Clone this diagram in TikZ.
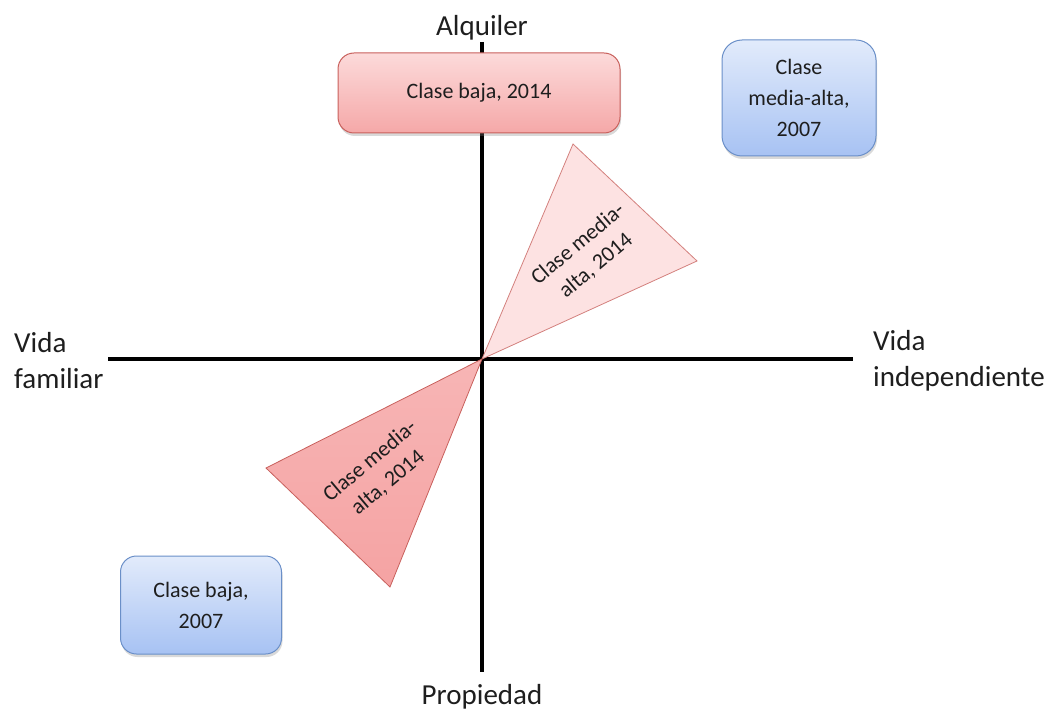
\documentclass[tikz,border=0pt]{standalone}
\usepackage{fontspec}
\setmainfont{Carlito}
\usetikzlibrary{shadows}
\definecolor{pinktop}{HTML}{FCDADA}
\definecolor{pinkbot}{HTML}{F5A8A8}
\definecolor{pinkedge}{HTML}{C8605C}
\definecolor{bluetop}{HTML}{E2EBFB}
\definecolor{bluebot}{HTML}{A7C2F3}
\definecolor{blueedge}{HTML}{6A8FC8}
\definecolor{trilight}{HTML}{FDE2E2}
\definecolor{tridark}{HTML}{F5A3A3}
\definecolor{txt}{HTML}{1E1E1E}
\tikzset{
  axis/.style={line width=4pt, black},
  axislabel/.style={font=\fontsize{29}{36}\selectfont, text=txt, inner sep=0pt},
  boxtext/.style={font=\fontsize{22}{31}\selectfont, text=txt, align=center},
  pinkbox/.style={boxtext, draw=pinkedge, line width=1pt, rounded corners=16pt,
    top color=pinktop, bottom color=pinkbot,
    drop shadow={opacity=0.3, shadow xshift=1pt, shadow yshift=-3pt}},
  bluebox/.style={boxtext, draw=blueedge, line width=1pt, rounded corners=20pt,
    top color=bluetop, bottom color=bluebot,
    drop shadow={opacity=0.3, shadow xshift=1pt, shadow yshift=-3pt}},
  tritext/.style={font=\fontsize{22}{28}\selectfont, text=txt, align=center, rotate=40}
}
\begin{document}
\begin{tikzpicture}[x=1pt, y=-1pt]
\useasboundingbox (0,0) rectangle (1049,711);

% axis ends
\coordinate (O) at (482,359);
\coordinate (vt) at (482,42);
\coordinate (vb) at (482,672);
\coordinate (hl) at (108,359);
\coordinate (hr) at (853,359);

% triangles of the upper-middle class, 2014
\coordinate (ua) at (573,144);
\coordinate (ub) at (697,261);
\coordinate (la) at (266,468);
\coordinate (lb) at (390,587);

\draw[axis] (hl) -- (hr);
\draw[axis] (vt) -- (vb);

\path[draw=pinkedge!80, line width=0.8pt, fill=trilight] (O) -- (ua) -- (ub) -- cycle;
\path[draw=pinkedge, line width=0.8pt, top color=tridark!80, bottom color=tridark] (O) -- (la) -- (lb) -- cycle;

\node[tritext] (t1) at (587,255) {Clase media-\\alta, 2014};
\node[tritext] (t2) at (379,472) {Clase media-\\alta, 2014};

% axis labels
\node[axislabel] (alq) at (482,28) {Alquiler};
\node[axislabel] (prop) at (482,697) {Propiedad};
\node[axislabel, align=left, anchor=west] (fam) at (14,361) {Vida\\familiar};
\node[axislabel, align=left, anchor=west] (ind) at (873,361) {Vida\\independiente};

% class boxes
\node[pinkbox, minimum width=282pt, minimum height=80pt] (b14) at (479,93) {Clase baja, 2014};
\node[bluebox, minimum width=154pt, minimum height=116pt] (m07) at (799,98) {Clase\\media-alta,\\2007};
\node[bluebox, minimum width=161pt, minimum height=98pt, rounded corners=16pt] (b07) at (201,605) {Clase baja,\\2007};
\end{tikzpicture}
\end{document}
